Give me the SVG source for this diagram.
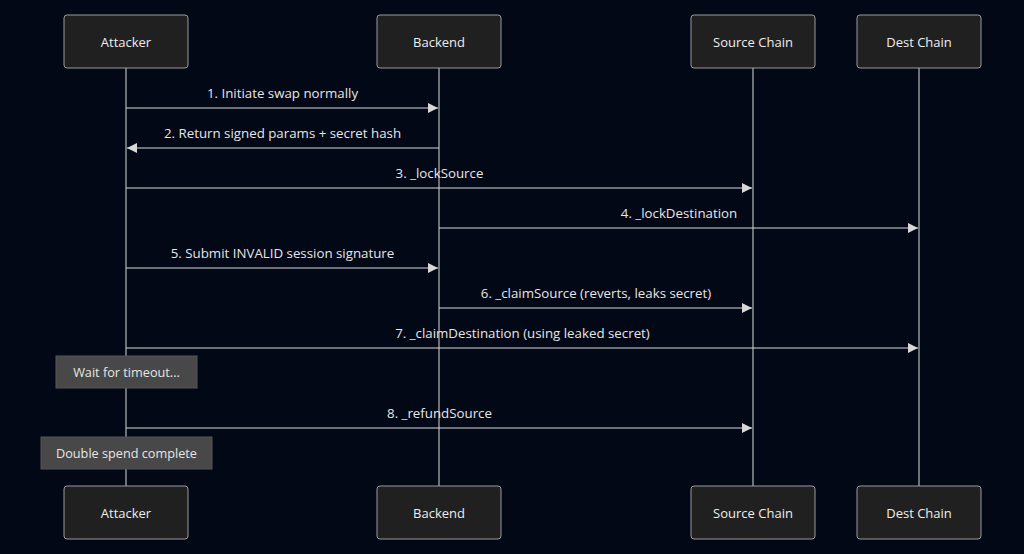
<svg xmlns="http://www.w3.org/2000/svg" width="1024" height="554" viewBox="0 0 1024 554">
<defs>
<style>
.actor rect{fill:#202020;stroke:#9a9a9a;stroke-width:1}
.actor text{fill:#eeeeee;font-family:"Open Sans","DejaVu Sans",sans-serif;font-size:13px;text-anchor:middle;dominant-baseline:central}
.life{stroke:#d8d8d8;stroke-width:1}
.msg{stroke:#d8d8d8;stroke-width:1.2;fill:none}
.lbl{fill:#e6e6e6;font-family:"Open Sans","DejaVu Sans",sans-serif;font-size:13.3px;text-anchor:middle}
.note rect{fill:#484848;stroke:#555;stroke-width:1}
.note text{fill:#e6e6e6;font-family:"Open Sans","DejaVu Sans",sans-serif;font-size:12.7px;text-anchor:middle;dominant-baseline:central}
</style>
<marker id="ah" viewBox="0 0 10 10" refX="10" refY="5" markerWidth="10" markerHeight="10" markerUnits="userSpaceOnUse" orient="auto">
<path d="M0,0 L10,5 L0,10 z" fill="#d8d8d8"/>
</marker>
</defs>
<rect width="1024" height="554" fill="#020816"/>
<g id="lifelines">
<line class="life" x1="126" y1="68" x2="126" y2="486"/>
<line class="life" x1="439" y1="68" x2="439" y2="486"/>
<line class="life" x1="753" y1="68" x2="753" y2="486"/>
<line class="life" x1="919" y1="68" x2="919" y2="486"/>
</g>
<g id="actor-attacker-top" class="actor"><rect x="64" y="15" width="124" height="53" rx="3"/><text x="126" y="41.5">Attacker</text></g>
<g id="actor-backend-top" class="actor"><rect x="377" y="15" width="124" height="53" rx="3"/><text x="439" y="41.5">Backend</text></g>
<g id="actor-source-top" class="actor"><rect x="691" y="15" width="124" height="53" rx="3"/><text x="753" y="41.5">Source Chain</text></g>
<g id="actor-dest-top" class="actor"><rect x="857" y="15" width="124" height="53" rx="3"/><text x="919" y="41.5">Dest Chain</text></g>
<g id="actor-attacker-bottom" class="actor"><rect x="64" y="486" width="124" height="53" rx="3"/><text x="126" y="512.5">Attacker</text></g>
<g id="actor-backend-bottom" class="actor"><rect x="377" y="486" width="124" height="53" rx="3"/><text x="439" y="512.5">Backend</text></g>
<g id="actor-source-bottom" class="actor"><rect x="691" y="486" width="124" height="53" rx="3"/><text x="753" y="512.5">Source Chain</text></g>
<g id="actor-dest-bottom" class="actor"><rect x="857" y="486" width="124" height="53" rx="3"/><text x="919" y="512.5">Dest Chain</text></g>
<g id="connectors">
<line class="msg" x1="126" y1="108" x2="438" y2="108" marker-end="url(#ah)"/>
<text class="lbl" x="282.5" y="98">1. Initiate swap normally</text>
<line class="msg" x1="439" y1="148" x2="127" y2="148" marker-end="url(#ah)"/>
<text class="lbl" x="282.5" y="138">2. Return signed params + secret hash</text>
<line class="msg" x1="126" y1="188" x2="752" y2="188" marker-end="url(#ah)"/>
<text class="lbl" x="439.5" y="178">3. _lockSource</text>
<line class="msg" x1="439" y1="228" x2="918" y2="228" marker-end="url(#ah)"/>
<text class="lbl" x="679" y="218">4. _lockDestination</text>
<line class="msg" x1="126" y1="268" x2="438" y2="268" marker-end="url(#ah)"/>
<text class="lbl" x="282.5" y="258">5. Submit INVALID session signature</text>
<line class="msg" x1="439" y1="308" x2="752" y2="308" marker-end="url(#ah)"/>
<text class="lbl" x="596" y="298">6. _claimSource (reverts, leaks secret)</text>
<line class="msg" x1="126" y1="348" x2="918" y2="348" marker-end="url(#ah)"/>
<text class="lbl" x="522.5" y="338">7. _claimDestination (using leaked secret)</text>
<line class="msg" x1="126" y1="428" x2="752" y2="428" marker-end="url(#ah)"/>
<text class="lbl" x="439.5" y="418">8. _refundSource</text>
</g>
<g id="note-wait" class="note"><rect x="56" y="356" width="141" height="32"/><text x="126.5" y="372">Wait for timeout...</text></g>
<g id="note-double" class="note"><rect x="41" y="437" width="171" height="32"/><text x="126.5" y="453">Double spend complete</text></g>
</svg>
